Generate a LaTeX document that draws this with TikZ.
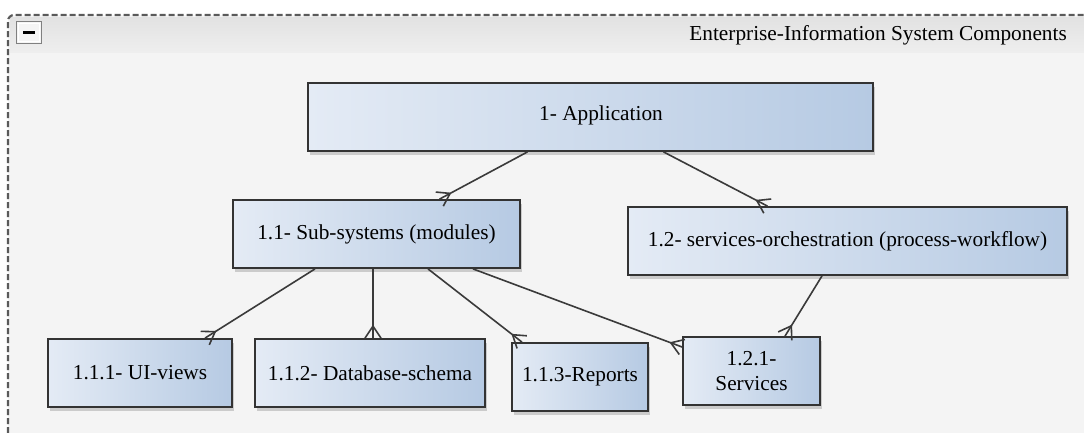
\documentclass[tikz,border=0pt]{standalone}
\usepackage{fontspec}
\setmainfont{Liberation Serif}
\usetikzlibrary{shadows,decorations.markings}

\definecolor{framegray}{HTML}{5A5A5A}
\definecolor{panelbg}{HTML}{F4F4F4}
\definecolor{headtop}{HTML}{E2E2E2}
\definecolor{headbot}{HTML}{EEEEEE}
\definecolor{boxleft}{HTML}{E4EBF5}
\definecolor{boxright}{HTML}{B6CAE3}
\definecolor{boxline}{HTML}{333333}
\definecolor{linkgray}{HTML}{3A3A3A}

\begin{document}
\begin{tikzpicture}[x=1pt,y=-1pt,
  every node/.style={font=\fontsize{21.3}{25}\selectfont, text=black},
  entity/.style={draw=boxline, line width=1.8pt, left color=boxleft, right color=boxright,
    drop shadow={shadow xshift=1.5pt, shadow yshift=-4pt, opacity=0.35, fill=gray},
    inner sep=0pt, minimum height=68pt, align=center},
  crowfoot/.style={draw=linkgray, line width=1.6pt, postaction={decorate},
    decoration={markings, mark=at position 1 with
      {\draw[linkgray, line width=1.6pt] (-12pt,0) -- (0,8pt) (-12pt,0) -- (0,-8pt);}}},
]
\useasboundingbox (0,0) rectangle (1084,432);

% container panel with dashed outline and header band
\fill[white] (0,0) rectangle (1084,432);
\begin{scope}
  \clip (0,0) rectangle (1084,432);
  \fill[panelbg, rounded corners=6pt] (8,15) rectangle (1110,460);
  \shade[top color=headtop, bottom color=headbot] (10,17) rectangle (1084,52);
  \draw[framegray, line width=2.2pt, dash pattern=on 6pt off 3pt, rounded corners=6pt]
    (8,460) -- (8,15) -- (1110,15);
\end{scope}

% collapse button
\node[draw=gray, line width=1pt, fill=white!92!gray, minimum width=25pt, minimum height=22pt,
  inner sep=0pt] (collapse) at (29,32.5) {};
\draw[white, line width=0.8pt] ([shift={(2.5pt,2.5pt)}]collapse.south west) rectangle ([shift={(-2.5pt,-2.5pt)}]collapse.north east);
\draw[black, line width=3pt] ([xshift=-6pt]collapse.center) -- ([xshift=6pt]collapse.center);

% header title
\node[anchor=base east, inner sep=0pt] (title) at (1067,40) {Enterprise-Information System Components};

% entities
\node[entity, minimum width=565pt,
  label={[name=apptext, xshift=10.5pt, yshift=2pt]center:1- Application}] (app) at (590.5,117) {};
\node[entity, minimum width=287pt] (sub) at (376.5,234) {1.1- Sub-systems (modules)};
\node[entity, minimum width=439pt] (orch) at (847.5,241) {1.2- services-orchestration (process-workflow)};
\node[entity, minimum width=184pt] (ui) at (140,373) {1.1.1- UI-views};
\node[entity, minimum width=230pt] (db) at (370,373) {1.1.2- Database-schema};
\node[entity, minimum width=136pt] (rep) at (580,377) {1.1.3-Reports};
\node[entity, minimum width=137pt] (svc) at (751.5,371) {1.2.1-\\Services};

% one-to-many relations
\draw[crowfoot] ([xshift=-63pt]app.south) -- ([xshift=63pt]sub.north);
\draw[crowfoot] ([xshift=73pt]app.south) -- ([xshift=-80pt]orch.north);
\draw[crowfoot] ([xshift=-61.5pt]sub.south) -- ([xshift=65pt]ui.north);
\draw[crowfoot] ([xshift=-3.5pt]sub.south) -- ([xshift=3pt]db.north);
\draw[crowfoot] ([xshift=51.5pt]sub.south) -- ([xshift=-58pt]rep.north);
\draw[crowfoot] ([xshift=96.5pt]sub.south) -- ([yshift=24pt]svc.west);
\draw[crowfoot] ([xshift=-25.5pt]orch.south) -- ([xshift=33.5pt]svc.north);
\end{tikzpicture}
\end{document}
